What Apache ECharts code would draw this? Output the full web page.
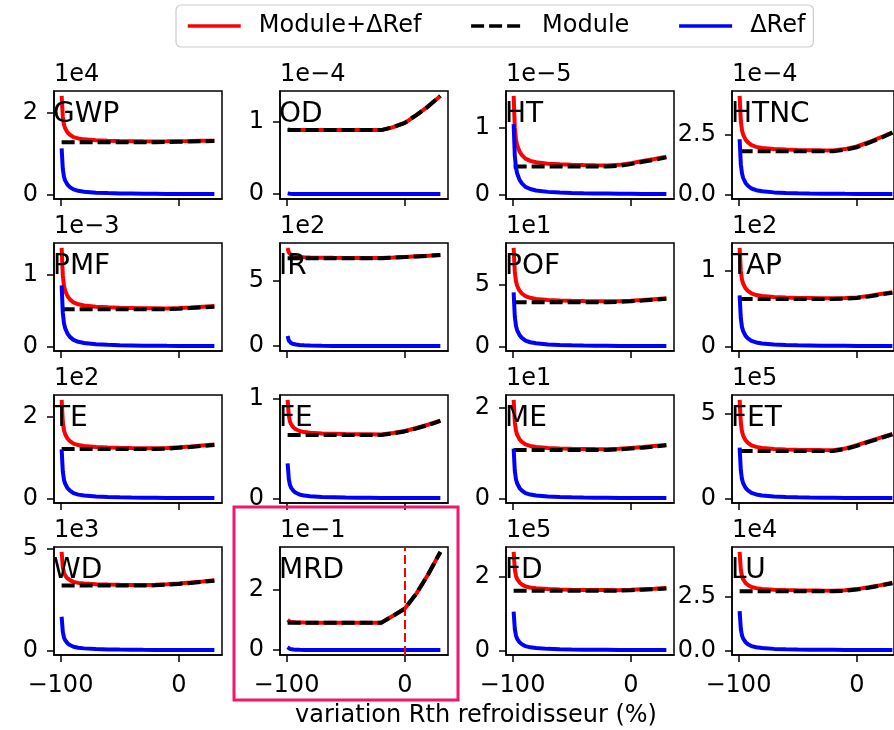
<!DOCTYPE html>
<html>
<head>
<meta charset="utf-8">
<script src="https://cdn.jsdelivr.net/npm/echarts@6/dist/echarts.min.js"></script>
<style>
  html, body { margin: 0; padding: 0; background: #fff; }
  #chart { width: 894px; height: 730px; }
</style>
</head>
<body>
<div id="chart"></div>
<script>
// variation of Rth refroidisseur (%)
const xVariation = [-99, -98, -97, -96, -94, -92, -89, -85, -80, -70, -60, -50, -40, -30, -20, -10, 0, 10, 20, 30]
const xTicks = [-100, 0]

// values in units of the offset shown above each panel (1e4, 1e-4, ...)
const gwpModule = [1.28, 1.28, 1.28, 1.28, 1.28, 1.28, 1.28, 1.28, 1.28, 1.28, 1.28, 1.28, 1.28, 1.28, 1.28, 1.285, 1.29, 1.295, 1.30, 1.305]
const gwpDelta = [1.13, 0.622, 0.429, 0.339, 0.237, 0.181, 0.124, 0.090, 0.068, 0.045, 0.034, 0.027, 0.023, 0.019, 0.017, 0.015, 0.014, 0.012, 0.011, 0.010]
const gwpTotal = [2.41, 1.902, 1.709, 1.619, 1.517, 1.461, 1.404, 1.370, 1.348, 1.325, 1.314, 1.307, 1.303, 1.299, 1.297, 1.300, 1.304, 1.307, 1.311, 1.315]

const odModule = [0.88, 0.88, 0.88, 0.88, 0.88, 0.88, 0.88, 0.88, 0.88, 0.88, 0.88, 0.88, 0.88, 0.88, 0.88, 0.92, 0.98, 1.09, 1.21, 1.35]
const odDelta = [0.010, 0.006, 0.004, 0.003, 0.002, 0.002, 0.001, 0.001, 0.001, 0.0005, 0.0004, 0.0003, 0.0003, 0.0002, 0.0002, 0.0002, 0.0002, 0.0001, 0.0001, 0.0001]
const odTotal = [0.890, 0.886, 0.884, 0.883, 0.882, 0.882, 0.881, 0.881, 0.881, 0.880, 0.880, 0.880, 0.880, 0.880, 0.880, 0.920, 0.980, 1.090, 1.210, 1.350]

const htModule = [0.42, 0.42, 0.42, 0.42, 0.42, 0.42, 0.42, 0.42, 0.42, 0.42, 0.42, 0.42, 0.42, 0.42, 0.42, 0.43, 0.455, 0.49, 0.52, 0.555]
const htDelta = [1.05, 0.578, 0.399, 0.315, 0.221, 0.168, 0.116, 0.084, 0.063, 0.042, 0.032, 0.025, 0.021, 0.018, 0.016, 0.014, 0.013, 0.012, 0.011, 0.009]
const htTotal = [1.47, 0.998, 0.819, 0.735, 0.641, 0.588, 0.536, 0.504, 0.483, 0.462, 0.452, 0.445, 0.441, 0.438, 0.436, 0.444, 0.468, 0.502, 0.531, 0.564]

const htncModule = [1.80, 1.80, 1.80, 1.80, 1.80, 1.80, 1.80, 1.80, 1.80, 1.80, 1.80, 1.80, 1.80, 1.80, 1.80, 1.86, 1.97, 2.15, 2.35, 2.57]
const htncDelta = [2.30, 1.265, 0.874, 0.690, 0.483, 0.368, 0.253, 0.184, 0.138, 0.092, 0.069, 0.055, 0.046, 0.039, 0.035, 0.030, 0.028, 0.025, 0.023, 0.021]
const htncTotal = [4.10, 3.065, 2.674, 2.490, 2.283, 2.168, 2.053, 1.984, 1.938, 1.892, 1.869, 1.855, 1.846, 1.839, 1.835, 1.890, 1.998, 2.175, 2.373, 2.591]

const pmfModule = [0.52, 0.52, 0.52, 0.52, 0.52, 0.52, 0.52, 0.52, 0.52, 0.52, 0.52, 0.52, 0.52, 0.52, 0.52, 0.52, 0.525, 0.535, 0.545, 0.555]
const pmfDelta = [0.85, 0.468, 0.323, 0.255, 0.179, 0.136, 0.094, 0.068, 0.051, 0.034, 0.026, 0.020, 0.017, 0.014, 0.013, 0.011, 0.010, 0.009, 0.009, 0.008]
const pmfTotal = [1.37, 0.988, 0.843, 0.775, 0.699, 0.656, 0.614, 0.588, 0.571, 0.554, 0.546, 0.540, 0.537, 0.534, 0.533, 0.531, 0.535, 0.544, 0.554, 0.563]

const irModule = [6.72, 6.72, 6.72, 6.72, 6.72, 6.72, 6.72, 6.72, 6.72, 6.72, 6.72, 6.72, 6.72, 6.72, 6.72, 6.76, 6.80, 6.85, 6.90, 6.95]
const irDelta = [0.78, 0.429, 0.296, 0.234, 0.164, 0.125, 0.086, 0.062, 0.047, 0.031, 0.023, 0.019, 0.016, 0.013, 0.012, 0.010, 0.009, 0.009, 0.008, 0.007]
const irTotal = [7.50, 7.149, 7.016, 6.954, 6.884, 6.845, 6.806, 6.782, 6.767, 6.751, 6.743, 6.739, 6.736, 6.733, 6.732, 6.770, 6.809, 6.859, 6.908, 6.957]

const pofModule = [3.60, 3.60, 3.60, 3.60, 3.60, 3.60, 3.60, 3.60, 3.60, 3.60, 3.60, 3.60, 3.60, 3.60, 3.60, 3.62, 3.67, 3.73, 3.80, 3.87]
const pofDelta = [4.40, 2.420, 1.672, 1.320, 0.924, 0.704, 0.484, 0.352, 0.264, 0.176, 0.132, 0.106, 0.088, 0.075, 0.066, 0.057, 0.053, 0.048, 0.044, 0.040]
const pofTotal = [8.00, 6.020, 5.272, 4.920, 4.524, 4.304, 4.084, 3.952, 3.864, 3.776, 3.732, 3.706, 3.688, 3.675, 3.666, 3.677, 3.723, 3.778, 3.844, 3.910]

const tapModule = [0.63, 0.63, 0.63, 0.63, 0.63, 0.63, 0.63, 0.63, 0.63, 0.63, 0.63, 0.63, 0.63, 0.63, 0.63, 0.635, 0.645, 0.665, 0.69, 0.715]
const tapDelta = [0.68, 0.374, 0.258, 0.204, 0.143, 0.109, 0.075, 0.054, 0.041, 0.027, 0.020, 0.016, 0.014, 0.012, 0.010, 0.009, 0.008, 0.007, 0.007, 0.006]
const tapTotal = [1.31, 1.004, 0.888, 0.834, 0.773, 0.739, 0.705, 0.684, 0.671, 0.657, 0.650, 0.646, 0.644, 0.642, 0.640, 0.644, 0.653, 0.672, 0.697, 0.721]

const teModule = [1.21, 1.21, 1.21, 1.21, 1.21, 1.21, 1.21, 1.21, 1.21, 1.21, 1.21, 1.21, 1.21, 1.21, 1.21, 1.22, 1.24, 1.26, 1.285, 1.31]
const teDelta = [1.20, 0.660, 0.456, 0.360, 0.252, 0.192, 0.132, 0.096, 0.072, 0.048, 0.036, 0.029, 0.024, 0.020, 0.018, 0.016, 0.014, 0.013, 0.012, 0.011]
const teTotal = [2.41, 1.870, 1.666, 1.570, 1.462, 1.402, 1.342, 1.306, 1.282, 1.258, 1.246, 1.239, 1.234, 1.230, 1.228, 1.236, 1.254, 1.273, 1.297, 1.321]

const feModule = [0.635, 0.635, 0.635, 0.635, 0.635, 0.635, 0.635, 0.635, 0.635, 0.635, 0.635, 0.635, 0.635, 0.635, 0.635, 0.65, 0.67, 0.70, 0.735, 0.775]
const feDelta = [0.35, 0.193, 0.133, 0.105, 0.074, 0.056, 0.039, 0.028, 0.021, 0.014, 0.011, 0.008, 0.007, 0.006, 0.005, 0.005, 0.004, 0.004, 0.004, 0.003]
const feTotal = [0.985, 0.828, 0.768, 0.740, 0.709, 0.691, 0.674, 0.663, 0.656, 0.649, 0.646, 0.643, 0.642, 0.641, 0.640, 0.655, 0.674, 0.704, 0.739, 0.778]

const meModule = [1.07, 1.07, 1.07, 1.07, 1.07, 1.07, 1.07, 1.07, 1.07, 1.07, 1.07, 1.07, 1.07, 1.07, 1.07, 1.08, 1.10, 1.12, 1.145, 1.17]
const meDelta = [1.10, 0.605, 0.418, 0.330, 0.231, 0.176, 0.121, 0.088, 0.066, 0.044, 0.033, 0.026, 0.022, 0.019, 0.017, 0.014, 0.013, 0.012, 0.011, 0.010]
const meTotal = [2.17, 1.675, 1.488, 1.400, 1.301, 1.246, 1.191, 1.158, 1.136, 1.114, 1.103, 1.096, 1.092, 1.089, 1.087, 1.094, 1.113, 1.132, 1.156, 1.180]

const fetModule = [2.80, 2.80, 2.80, 2.80, 2.80, 2.80, 2.80, 2.80, 2.80, 2.80, 2.80, 2.80, 2.80, 2.80, 2.80, 2.90, 3.10, 3.33, 3.55, 3.77]
const fetDelta = [3.00, 1.650, 1.140, 0.900, 0.630, 0.480, 0.330, 0.240, 0.180, 0.120, 0.090, 0.072, 0.060, 0.051, 0.045, 0.039, 0.036, 0.033, 0.030, 0.027]
const fetTotal = [5.80, 4.450, 3.940, 3.700, 3.430, 3.280, 3.130, 3.040, 2.980, 2.920, 2.890, 2.872, 2.860, 2.851, 2.845, 2.939, 3.136, 3.363, 3.580, 3.797]

const wdModule = [3.18, 3.18, 3.18, 3.18, 3.18, 3.18, 3.18, 3.18, 3.18, 3.18, 3.18, 3.18, 3.18, 3.18, 3.19, 3.22, 3.26, 3.31, 3.36, 3.42]
const wdDelta = [1.65, 0.908, 0.627, 0.495, 0.347, 0.264, 0.182, 0.132, 0.099, 0.066, 0.050, 0.040, 0.033, 0.028, 0.025, 0.021, 0.020, 0.018, 0.017, 0.015]
const wdTotal = [4.83, 4.088, 3.807, 3.675, 3.527, 3.444, 3.362, 3.312, 3.279, 3.246, 3.230, 3.220, 3.213, 3.208, 3.215, 3.241, 3.280, 3.328, 3.377, 3.435]

const mrdModule = [0.90, 0.90, 0.90, 0.90, 0.90, 0.90, 0.90, 0.90, 0.90, 0.90, 0.90, 0.90, 0.90, 0.90, 0.90, 1.13, 1.37, 1.88, 2.52, 3.24]
const mrdDelta = [0.10, 0.055, 0.038, 0.030, 0.021, 0.016, 0.011, 0.008, 0.006, 0.004, 0.003, 0.002, 0.002, 0.002, 0.002, 0.001, 0.001, 0.001, 0.001, 0.001]
const mrdTotal = [1.00, 0.955, 0.938, 0.930, 0.921, 0.916, 0.911, 0.908, 0.906, 0.904, 0.903, 0.902, 0.902, 0.902, 0.902, 1.131, 1.371, 1.881, 2.521, 3.241]

const fdModule = [1.62, 1.62, 1.62, 1.62, 1.62, 1.62, 1.62, 1.62, 1.62, 1.62, 1.62, 1.62, 1.62, 1.62, 1.62, 1.62, 1.63, 1.645, 1.66, 1.68]
const fdDelta = [1.05, 0.578, 0.399, 0.315, 0.221, 0.168, 0.116, 0.084, 0.063, 0.042, 0.032, 0.025, 0.021, 0.018, 0.016, 0.014, 0.013, 0.012, 0.011, 0.009]
const fdTotal = [2.67, 2.198, 2.019, 1.935, 1.841, 1.788, 1.736, 1.704, 1.683, 1.662, 1.652, 1.645, 1.641, 1.638, 1.636, 1.634, 1.643, 1.657, 1.671, 1.689]

const luModule = [2.78, 2.78, 2.78, 2.78, 2.78, 2.78, 2.78, 2.78, 2.78, 2.78, 2.78, 2.78, 2.78, 2.78, 2.78, 2.80, 2.86, 2.95, 3.05, 3.16]
const luDelta = [1.85, 1.018, 0.703, 0.555, 0.389, 0.296, 0.204, 0.148, 0.111, 0.074, 0.056, 0.044, 0.037, 0.031, 0.028, 0.024, 0.022, 0.020, 0.019, 0.017]
const luTotal = [4.63, 3.798, 3.483, 3.335, 3.169, 3.076, 2.984, 2.928, 2.891, 2.854, 2.836, 2.824, 2.817, 2.811, 2.808, 2.824, 2.882, 2.970, 3.069, 3.177]

const panelNames = ['GWP', 'OD', 'HT', 'HTNC', 'PMF', 'IR', 'POF', 'TAP', 'TE', 'FE', 'ME', 'FET', 'WD', 'MRD', 'FD', 'LU']
const offsetLabels = ['1e4', '1e\u22124', '1e\u22125', '1e\u22124', '1e\u22123', '1e2', '1e1', '1e2', '1e2', '', '1e1', '1e5', '1e3', '1e\u22121', '1e5', '1e4']
const yTickValues = [[0, 2], [0, 1], [0, 1], [0, 2.5], [0, 1], [0, 5], [0, 5], [0, 1], [0, 2], [0, 1], [0, 2], [0, 5], [0, 5], [0, 2], [0, 2], [0, 2.5]]
const moduleSeries = [gwpModule, odModule, htModule, htncModule, pmfModule, irModule, pofModule, tapModule, teModule, feModule, meModule, fetModule, wdModule, mrdModule, fdModule, luModule]
const deltaSeries = [gwpDelta, odDelta, htDelta, htncDelta, pmfDelta, irDelta, pofDelta, tapDelta, teDelta, feDelta, meDelta, fetDelta, wdDelta, mrdDelta, fdDelta, luDelta]
const totalSeries = [gwpTotal, odTotal, htTotal, htncTotal, pmfTotal, irTotal, pofTotal, tapTotal, teTotal, feTotal, meTotal, fetTotal, wdTotal, mrdTotal, fdTotal, luTotal]

const FONT = '"DejaVu Sans", sans-serif'
const minus = v => (v < 0 ? '\u2212' + Math.abs(v) : String(v))
const toPairs = ys => xVariation.map((x, i) => [x, ys[i]])

const chart = echarts.init(document.getElementById('chart'))

const grids = []
const xAxes = []
const yAxes = []
const series = []
const graphics = []

const X_MIN = -105.45
const X_MAX = 36.45
const PANEL_W = 168

panelNames.forEach((name, i) => {
  const col = i % 4
  const row = Math.floor(i / 4)
  const left = 54 + col * 226
  const top = 91 + row * 152
  const all = totalSeries[i].concat(moduleSeries[i], deltaSeries[i])
  const lo = Math.min(...all)
  const hi = Math.max(...all)
  const pad = 0.05 * (hi - lo)
  const oneDecimal = yTickValues[i].some(v => v % 1 !== 0)

  // the last column is cut by the page edge: keep the same scale, shorter width
  const width = col === 3 ? 894 - left : PANEL_W
  const xMax = X_MIN + (X_MAX - X_MIN) * width / PANEL_W

  grids.push({
    left: left, top: top, width: width, height: 108,
    show: true, borderColor: '#000', borderWidth: 1.5, backgroundColor: '#fff'
  })
  xAxes.push({
    type: 'value', gridIndex: i, min: X_MIN, max: xMax,
    axisLine: { show: true, onZero: false, lineStyle: { color: '#000', width: 1.5 } },
    splitLine: { show: false },
    axisTick: { show: true, customValues: xTicks, length: 7, lineStyle: { color: '#000', width: 1.5 } },
    axisLabel: {
      show: row === 3, customValues: xTicks, formatter: minus, margin: 19,
      color: '#000', fontSize: 24, fontFamily: FONT
    }
  })
  yAxes.push({
    type: 'value', gridIndex: i, min: lo - pad, max: hi + pad,
    axisLine: { show: true, onZero: false, lineStyle: { color: '#000', width: 1.5 } },
    splitLine: { show: false },
    axisTick: { show: true, customValues: yTickValues[i], length: 7, lineStyle: { color: '#000', width: 1.5 } },
    axisLabel: {
      customValues: yTickValues[i], margin: 16,
      formatter: v => (oneDecimal ? v.toFixed(1) : String(v)),
      color: '#000', fontSize: 24, fontFamily: FONT
    }
  })

  const total = {
    name: 'Module+\u0394Ref', type: 'line', xAxisIndex: i, yAxisIndex: i,
    data: toPairs(totalSeries[i]), symbol: 'none', color: '#ff0000',
    lineStyle: { color: '#ff0000', width: 4 }
  }
  if (name === 'MRD') {
    total.markLine = {
      silent: true, symbol: 'none', label: { show: false },
      lineStyle: { color: '#ff0000', width: 2, type: [9, 4] },
      data: [{ xAxis: 0 }]
    }
  }
  series.push(total)
  series.push({
    name: 'Module', type: 'line', xAxisIndex: i, yAxisIndex: i,
    data: toPairs(moduleSeries[i]), symbol: 'none', color: '#000',
    lineStyle: { color: '#000', width: 4, type: [13, 5] }
  })
  series.push({
    name: '\u0394Ref', type: 'line', xAxisIndex: i, yAxisIndex: i,
    data: toPairs(deltaSeries[i]), symbol: 'none', color: '#0000ff',
    lineStyle: { color: '#0000ff', width: 4 }
  })

  graphics.push({
    type: 'text', x: left - 1, y: top + 24, z: 100,
    style: { text: name, fill: '#000', font: '28px ' + FONT, align: 'left', verticalAlign: 'middle' }
  })
  if (offsetLabels[i]) {
    graphics.push({
      type: 'text', x: left, y: top - 16, z: 100,
      style: { text: offsetLabels[i], fill: '#000', font: '24px ' + FONT, align: 'left', verticalAlign: 'middle' }
    })
  }
})

// x axis title
graphics.push({
  type: 'text', x: 476, y: 716, z: 100,
  style: { text: 'variation Rth refroidisseur (%)', fill: '#000', font: '24px ' + FONT, align: 'center', verticalAlign: 'middle' }
})
// highlight box round the MRD panel
graphics.push({
  type: 'rect', z: 100,
  shape: { x: 234, y: 507, width: 224, height: 193 },
  style: { fill: 'none', stroke: '#f0186c', lineWidth: 3 }
})

chart.setOption({
  animation: false,
  backgroundColor: '#fff',
  legend: {
    data: ['Module+\u0394Ref', 'Module', '\u0394Ref'],
    left: 176, top: 5,
    itemWidth: 53, itemHeight: 14, itemGap: 48,
    padding: [9, 8, 9, 10],
    borderColor: '#cccccc', borderWidth: 1.2, borderRadius: 5,
    selectedMode: false,
    itemStyle: { opacity: 0 },
    lineStyle: { width: 3.5 },
    textStyle: { color: '#000', fontSize: 24, fontFamily: FONT, padding: [0, 0, 0, 13] }
  },
  grid: grids,
  xAxis: xAxes,
  yAxis: yAxes,
  series: series,
  graphic: graphics
})
</script>
</body>
</html>
